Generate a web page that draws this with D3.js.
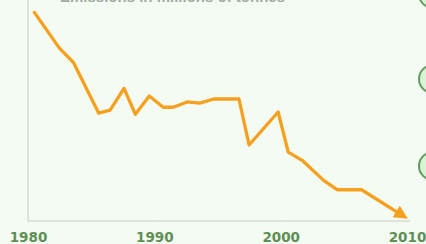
<!DOCTYPE html>
<html><head><meta charset="utf-8">
<script src="https://cdn.jsdelivr.net/npm/d3@7"></script>
<style>html,body{margin:0;padding:0;background:#f4fbf2;overflow:hidden}</style>
</head><body>
<svg id="c" width="426" height="244"></svg>
<script>
const years = [1980.5, 1982.5, 1983.6, 1985.6, 1986.5, 1987.6, 1988.5, 1989.6, 1990.7, 1991.5, 1992.6, 1993.6, 1994.7, 1996.7, 1997.5, 1999.8, 2000.6, 2001.7, 2003.4, 2004.5, 2006.4, 2009.6];
const values = [3.54, 2.93, 2.69, 1.83, 1.88, 2.25, 1.81, 2.12, 1.93, 1.93, 2.02, 2.0, 2.07, 2.07, 1.29, 1.85, 1.17, 1.03, 0.69, 0.53, 0.53, 0.10];
const xTicks = [1980, 1990, 2000, 2010];
const yTicks = [1, 2, 3];
const titleText = "Emissions in millions of tonnes";

const svg = d3.select("#c");
const x = d3.scaleLinear().domain([1980, 2010]).range([28, 407]);
const y = d3.scaleLinear().domain([0, 3.75]).range([221, 0]);

svg.append("rect").attr("width", 426).attr("height", 244).attr("fill", "#f4fbf2");

// title (mostly above the top edge, as in the reference)
svg.append("text").attr("x", 60).attr("y", 2).attr("font-family", "Arial, sans-serif")
  .attr("font-size", 15).attr("font-weight", "bold").attr("fill", "#a3aaa1").text(titleText);

// axes
const ax = svg.append("g").attr("transform", "translate(0,221)")
  .call(d3.axisBottom(x).tickValues(xTicks).tickFormat(d3.format("d")).tickSize(2));
ax.select(".domain").attr("stroke", "#d6dbd4").attr("stroke-width", 1.5).attr("d", "M28,0H410");
ax.selectAll(".tick line").attr("stroke", "#e2e6e0");
ax.selectAll(".tick text").attr("font-family", "'DejaVu Sans', sans-serif").attr("font-weight", "bold")
  .attr("font-size", 13.5).attr("fill", "#5f8f55").attr("dy", 0).attr("y", 21);

const ay = svg.append("g").attr("transform", "translate(28,0)")
  .call(d3.axisLeft(y).tickValues(yTicks).tickFormat("").tickSize(2));
ay.select(".domain").attr("stroke", "#d6dbd4").attr("stroke-width", 1.5).attr("d", "M0,0V221");
ay.selectAll(".tick line").attr("stroke", "#e2e6e0");

// arrow marker
svg.append("defs").append("marker").attr("id", "arr").attr("viewBox", "0 0 10 10")
  .attr("refX", 5).attr("refY", 5).attr("markerWidth", 4.2).attr("markerHeight", 4.2)
  .attr("orient", "auto").attr("markerUnits", "strokeWidth")
  .append("path").attr("d", "M0,0L10,5L0,10z").attr("fill", "#f5a01e");

const line = d3.line().x((d, i) => x(years[i])).y(d => y(d));
svg.append("path").datum(values).attr("d", line).attr("fill", "none")
  .attr("stroke", "#f5a01e").attr("stroke-width", 3.3).attr("stroke-linejoin", "round")
  .attr("stroke-linecap", "round").attr("marker-end", "url(#arr)");

// decorative circles at right edge (mostly outside the frame)
[-6, 79, 166].forEach(cy => {
  svg.append("circle").attr("cx", 433).attr("cy", cy).attr("r", 14)
    .attr("fill", "#dcf2d6").attr("stroke", "#5e9c5c").attr("stroke-width", 2);
});
</script>
</body></html>
